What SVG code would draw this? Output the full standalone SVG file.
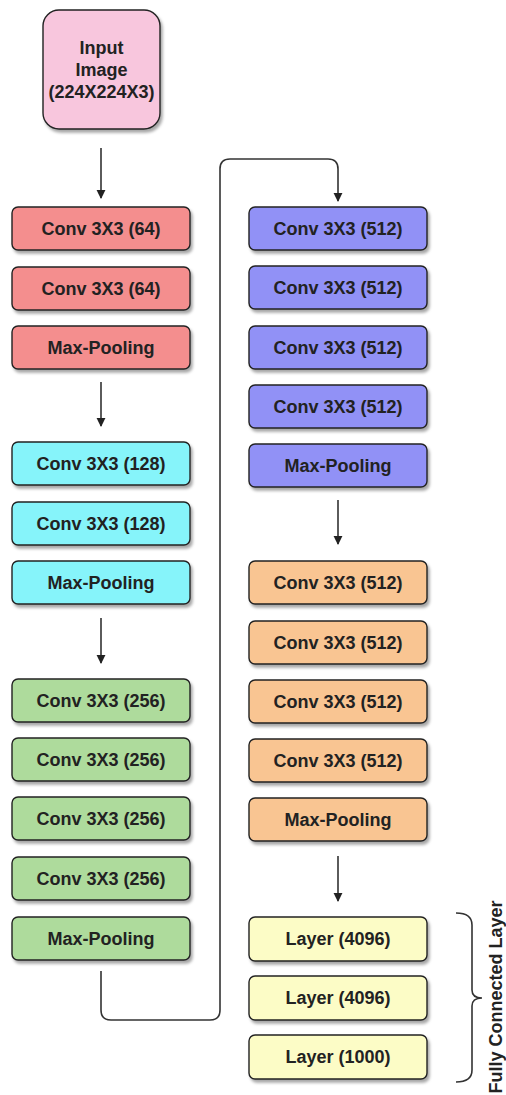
<svg xmlns="http://www.w3.org/2000/svg" width="506" height="1095" viewBox="0 0 506 1095">
  <defs>
    <filter id="shadow" x="-10%" y="-20%" width="125%" height="150%">
      <feDropShadow dx="2" dy="3" stdDeviation="1.6" flood-color="#000" flood-opacity="0.35"/>
    </filter>
    <marker id="arrow" viewBox="0 0 10 10" refX="9" refY="5" markerWidth="9" markerHeight="10" markerUnits="userSpaceOnUse" orient="auto">
      <path d="M0,0 L10,5 L0,10 Z" fill="#222"/>
    </marker>
    <style>
      .box { stroke: #222; stroke-width: 1.4; filter: url(#shadow); }
      .lbl { font-family: "Liberation Sans", Arial, sans-serif; font-size: 18px; font-weight: bold; fill: #222; text-anchor: middle; }
      .red { fill: #f48e8e; }
      .cyan { fill: #86f4fa; }
      .green { fill: #aedb9c; }
      .blue { fill: #9191f6; }
      .orange { fill: #f9c592; }
      .yellow { fill: #fcfcc6; }
      .pink { fill: #f8c6dd; }
      .link { fill: none; stroke: #333; stroke-width: 1.6; }
    </style>
  </defs>

  <rect width="506" height="1095" fill="#ffffff"/>

  <!-- input -->
  <g id="input">
    <rect class="box pink" x="43" y="10" width="117" height="119" rx="16"/>
    <text class="lbl" x="101.5" y="54">Input</text>
    <text class="lbl" x="101.5" y="76">Image</text>
    <text class="lbl" x="101.5" y="98">(224X224X3)</text>
  </g>

  <!-- block 1 -->
  <g id="conv1_1"><rect class="box red" x="12" y="207" width="178" height="43" rx="6"/><text class="lbl" x="101" y="235">Conv 3X3 (64)</text></g>
  <g id="conv1_2"><rect class="box red" x="12" y="267" width="178" height="43" rx="6"/><text class="lbl" x="101" y="295">Conv 3X3 (64)</text></g>
  <g id="pool1"><rect class="box red" x="12" y="326" width="178" height="43" rx="6"/><text class="lbl" x="101" y="354">Max-Pooling</text></g>

  <!-- block 2 -->
  <g id="conv2_1"><rect class="box cyan" x="12" y="442" width="178" height="43" rx="6"/><text class="lbl" x="101" y="470">Conv 3X3 (128)</text></g>
  <g id="conv2_2"><rect class="box cyan" x="12" y="502" width="178" height="43" rx="6"/><text class="lbl" x="101" y="530">Conv 3X3 (128)</text></g>
  <g id="pool2"><rect class="box cyan" x="12" y="561" width="178" height="43" rx="6"/><text class="lbl" x="101" y="589">Max-Pooling</text></g>

  <!-- block 3 -->
  <g id="conv3_1"><rect class="box green" x="12" y="679" width="178" height="43" rx="6"/><text class="lbl" x="101" y="707">Conv 3X3 (256)</text></g>
  <g id="conv3_2"><rect class="box green" x="12" y="738" width="178" height="43" rx="6"/><text class="lbl" x="101" y="766">Conv 3X3 (256)</text></g>
  <g id="conv3_3"><rect class="box green" x="12" y="797" width="178" height="43" rx="6"/><text class="lbl" x="101" y="825">Conv 3X3 (256)</text></g>
  <g id="conv3_4"><rect class="box green" x="12" y="857" width="178" height="43" rx="6"/><text class="lbl" x="101" y="885">Conv 3X3 (256)</text></g>
  <g id="pool3"><rect class="box green" x="12" y="917" width="178" height="43" rx="6"/><text class="lbl" x="101" y="945">Max-Pooling</text></g>

  <!-- block 4 -->
  <g id="conv4_1"><rect class="box blue" x="249" y="207" width="178" height="43" rx="6"/><text class="lbl" x="338" y="235">Conv 3X3 (512)</text></g>
  <g id="conv4_2"><rect class="box blue" x="249" y="266" width="178" height="43" rx="6"/><text class="lbl" x="338" y="294">Conv 3X3 (512)</text></g>
  <g id="conv4_3"><rect class="box blue" x="249" y="326" width="178" height="43" rx="6"/><text class="lbl" x="338" y="354">Conv 3X3 (512)</text></g>
  <g id="conv4_4"><rect class="box blue" x="249" y="385" width="178" height="43" rx="6"/><text class="lbl" x="338" y="413">Conv 3X3 (512)</text></g>
  <g id="pool4"><rect class="box blue" x="249" y="444" width="178" height="43" rx="6"/><text class="lbl" x="338" y="472">Max-Pooling</text></g>

  <!-- block 5 -->
  <g id="conv5_1"><rect class="box orange" x="249" y="561" width="178" height="43" rx="6"/><text class="lbl" x="338" y="589">Conv 3X3 (512)</text></g>
  <g id="conv5_2"><rect class="box orange" x="249" y="621" width="178" height="43" rx="6"/><text class="lbl" x="338" y="649">Conv 3X3 (512)</text></g>
  <g id="conv5_3"><rect class="box orange" x="249" y="680" width="178" height="43" rx="6"/><text class="lbl" x="338" y="708">Conv 3X3 (512)</text></g>
  <g id="conv5_4"><rect class="box orange" x="249" y="739" width="178" height="43" rx="6"/><text class="lbl" x="338" y="767">Conv 3X3 (512)</text></g>
  <g id="pool5"><rect class="box orange" x="249" y="798" width="178" height="43" rx="6"/><text class="lbl" x="338" y="826">Max-Pooling</text></g>

  <!-- fully connected -->
  <g id="fc1"><rect class="box yellow" x="249" y="917" width="178" height="44" rx="6"/><text class="lbl" x="338" y="945">Layer (4096)</text></g>
  <g id="fc2"><rect class="box yellow" x="249" y="976" width="178" height="44" rx="6"/><text class="lbl" x="338" y="1004">Layer (4096)</text></g>
  <g id="fc3"><rect class="box yellow" x="249" y="1035" width="178" height="44" rx="6"/><text class="lbl" x="338" y="1063">Layer (1000)</text></g>

  <g id="fc-label">
    <path class="link" d="M456 913 Q472 913 472 925 V990 Q472 998 482 998 Q472 998 472 1006 V1070 Q472 1082 456 1082"/>
    <text class="lbl" transform="translate(502 997) rotate(-90)">Fully Connected Layer</text>
  </g>

  <!-- connectors -->
  <g id="connectors">
    <path class="link" d="M101 148 V198" marker-end="url(#arrow)"/>
    <path class="link" d="M101 382 V426" marker-end="url(#arrow)"/>
    <path class="link" d="M101 618 V663" marker-end="url(#arrow)"/>
    <path class="link" d="M338 500 V544" marker-end="url(#arrow)"/>
    <path class="link" d="M338 856 V901" marker-end="url(#arrow)"/>
    <path class="link" d="M101 971 V1010 Q101 1020 111 1020 H210 Q220 1020 220 1010 V169 Q220 159 230 159 H328 Q338 159 338 169 V201" marker-end="url(#arrow)"/>
  </g>
</svg>
